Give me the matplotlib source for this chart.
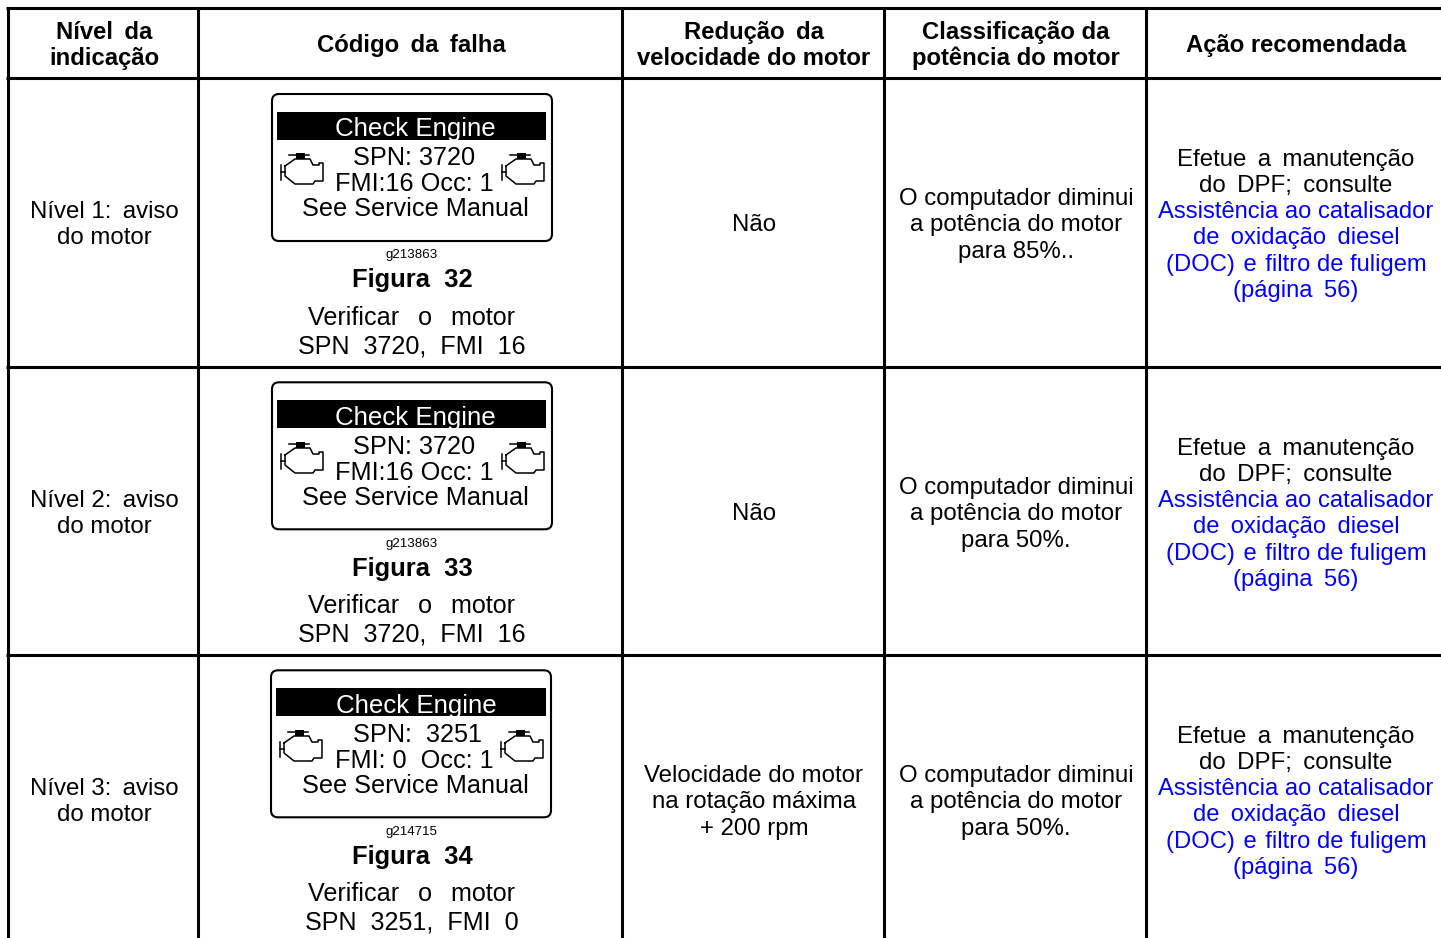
import matplotlib
matplotlib.use("Agg")
import matplotlib.pyplot as plt
from matplotlib.patches import FancyBboxPatch, Rectangle

plt.rcParams['font.family'] = ['Liberation Sans', 'DejaVu Sans']

col_lines = [7.5, 198, 622, 884, 1146]
row_lines = [8.5, 78, 367, 655]
col_centers = [104, 411, 754, 1016, 1296]

headers = [["Nível \u2009da", "indicação"], ["Código \u2009da \u2009falha"], ["Redução \u2009da", "velocidade do motor"],
           ["Classificação da", "potência do motor"], ["Ação recomendada"]]
levels = [["Nível 1: \u2009aviso", "do motor"], ["Nível 2: \u2009aviso", "do motor"], ["Nível 3: \u2009aviso", "do motor"]]
speed = [["Não"], ["Não"], ["Velocidade do motor", "na rotação máxima", "+ 200 rpm"]]
power = [["O computador diminui", "a potência do motor", "para 85%.."],
         ["O computador diminui", "a potência do motor", "para 50%."],
         ["O computador diminui", "a potência do motor", "para 50%."]]
action_black = ["Efetue \u2009a \u2009manutenção", "do \u2009DPF; \u2009consulte"]
action_blue = ["Assistência ao catalisador", "de \u2009oxidação \u2009diesel", "(DOC) \u200ae \u200afiltro de fuligem", "(página \u200956)"]
figures = ["Figura  32", "Figura  33", "Figura  34"]
captions = [["Verificar  \u2009o  \u2009motor", "SPN  3720,  FMI  16"], ["Verificar  \u2009o  \u2009motor", "SPN  3720,  FMI  16"],
            ["Verificar  \u2009o  \u2009motor", "SPN  3251,  FMI  0"]]
graphic_ids = ["g213863", "g213863", "g214715"]
screen_spn = ["SPN: 3720", "SPN: 3720", "SPN:  3251"]
screen_fmi = ["FMI:16 Occ: 1", "FMI:16 Occ: 1", "FMI: 0  Occ: 1"]

fig = plt.figure(figsize=(14.41, 9.38), dpi=100)
ax = fig.add_axes([0, 0, 1, 1])
ax.set_xlim(0, 1441)
ax.set_ylim(938, 0)
ax.axis('off')

FS = 17.3
LINE = 26.3


def lines(x, y, rows, fs=FS, color='black', weight='normal', step=LINE):
    # y = first baseline
    for i, r in enumerate(rows):
        ax.text(x, y + i * step, r, ha='center', va='baseline', fontsize=fs, color=color, fontweight=weight)


def engine(x, y):
    # small engine glyph, x,y = top left of the icon
    xs = [5, 15, 30, 33, 39, 39, 43, 43, 35, 33, 15, 5, 5]
    ys = [13, 6, 6, 12, 12, 10, 10, 28, 28, 31, 31, 23, 13]
    ax.plot([x + v for v in xs], [y + v for v in ys], color='black', lw=1.1, solid_joinstyle='round')
    ax.plot([x + 1, x + 1], [y + 12, y + 27], color='black', lw=1.1)
    ax.plot([x + 1, x + 5], [y + 19, y + 19], color='black', lw=1.1)
    ax.plot([x + 9, x + 29], [y + 2, y + 2], color='black', lw=1.1)
    ax.add_patch(Rectangle((x + 16, y), 9, 6, fc='black', ec='none'))


for x in col_lines:
    ax.plot([x, x], [7, 938], color='black', lw=2.2, solid_capstyle='butt')
for y in row_lines:
    ax.plot([6, 1441], [y, y], color='black', lw=2.2, solid_capstyle='butt')

for i, h in enumerate(headers):
    y0 = 52 if len(h) == 1 else 39
    lines(col_centers[i], y0, h, weight='bold', fs=17.2)

row_tops = [row_lines[1], row_lines[2], row_lines[3]]
for i, top in enumerate(row_tops):
    lines(col_centers[0], top + 140, levels[i])

    # speed / power cells
    y_sp = top + 153 if len(speed[i]) == 1 else top + 127
    lines(col_centers[2], y_sp, speed[i])
    lines(col_centers[3], top + 127, power[i])

    # action cell
    lines(col_centers[4], top + 88, action_black)
    lines(col_centers[4], top + 140, action_blue, color='#0000ff', fs=17.15)

    # display graphic
    sx = 272 if i < 2 else 271
    nudge = 0 if i == 0 else -0.7
    box = FancyBboxPatch((sx + 5, top + 21 + nudge), 270, 137, boxstyle="round,pad=5,rounding_size=7",
                         fc='white', ec='black', lw=1.5)
    ax.add_patch(box)
    ax.add_patch(Rectangle((sx + 5, top + 34 + nudge), 269 + (1 if i == 2 else 0), 28, fc='black', ec='none'))
    off = 1 if i == 2 else 0
    ax.text(415.5 + off, top + 58, "Check Engine", color='white', fontsize=18.6, ha='center', va='baseline')
    ax.text(414.5 + off * 3, top + 87, screen_spn[i], fontsize=18.2, ha='center', va='baseline')
    ax.text(414, top + 113, screen_fmi[i], fontsize=18.2, ha='center', va='baseline')
    ax.text(415, top + 138.5 + nudge, "See Service Manual", fontsize=18.2, ha='center', va='baseline')
    engine(sx + 8, top + 75)
    engine(sx + 229, top + 75)

    ax.text(411.5, top + 180, graphic_ids[i], fontsize=9.6, ha='center', va='baseline')
    ax.text(412, top + 209, figures[i], fontsize=18.4, ha='center', va='baseline', fontweight='bold')
    lines(412, top + 247 + 1.4 * nudge, captions[i], fs=18.1, step=28.5)

fig.savefig("out.png", dpi=100)
